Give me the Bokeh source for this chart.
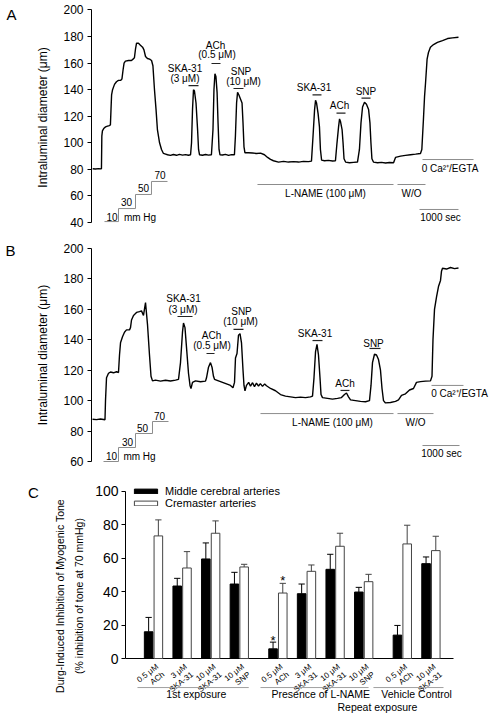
from bokeh.plotting import figure
from bokeh.layouts import column
from bokeh.models import Range1d, FixedTicker, Label, Legend, LegendItem, ColumnDataSource
from bokeh.core.properties import value
from bokeh.embed import file_html
from bokeh.resources import INLINE

FONT = "Liberation Sans"
GRAY = "#8c8c8c"

# ---------------- Panel A : trace (time in s, diameter in um) ----------------
a_time = [30, 100, 180, 255, 265, 280, 320, 360, 410, 460, 485, 500, 515, 540, 590, 640, 690, 745, 780, 810,
          835, 870, 950, 1025, 1065, 1100, 1130, 1155, 1205, 1255, 1310, 1345, 1385, 1435, 1490, 1540, 1575,
          1615, 1655, 1690, 1745, 1795, 1845, 1900, 1950, 2025, 2100, 2180, 2255, 2335, 2410, 2485, 2540,
          2565, 2590, 2615, 2640, 2680, 2720, 2745, 2770, 2845, 2925, 3000, 3075, 3115, 3140, 3165, 3190,
          3220, 3245, 3270, 3295, 3360, 3435, 3515, 3590, 3665, 3690, 3720, 3745, 3780, 3820, 3860, 3885,
          3910, 3935, 4025, 4130, 4230, 4335, 4435, 4515, 4590, 4665, 4795, 4925, 5050, 5180, 5310, 5435,
          5565, 5640, 5680, 5720, 5745, 5770, 5810, 5845, 5870, 5900, 5975, 6075, 6180, 6255, 6295, 6335,
          6360, 6385, 6425, 6450, 6475, 6515, 6615, 6720, 6820, 6870, 6910, 6950, 7000, 7050, 7105, 7140,
          7165, 7190, 7230, 7335, 7435, 7540, 7640, 7745, 7795, 7925, 8050, 8180, 8310, 8435, 8470, 8510,
          8540, 8565, 8605, 8640, 8690, 8770, 8870, 9000, 9130, 9255, 9410]
a_diam = [80.5, 80.3, 80.6, 80.4, 105, 109, 111, 112, 112.5, 113, 113.5, 125, 136, 140, 144, 146, 147, 147, 148, 155,
          160, 161.5, 162, 162, 163, 164, 171, 175, 175, 173.5, 172, 170, 165, 163.5, 163, 162, 158,
          140, 125, 110, 100, 95, 92, 91.5, 91, 90.5, 91.2, 90.6, 91.3, 90.7, 91.1, 90.6, 91,
          100, 125, 140, 139, 130, 110, 95, 91, 90.6, 91.2, 90.7, 91, 110, 140, 152, 150,
          138, 115, 95, 91, 90.8, 91.3, 90.5, 91.1, 91, 105, 130, 138, 136, 133, 130, 115,
          97, 92.5, 92.5, 92.3, 92, 92.2, 91, 89, 87.5, 86.5, 85.5, 86, 85.5, 85.8, 85.5, 86,
          85.8, 86.2, 105, 125, 132, 130, 122, 112, 95, 87, 86.5, 86.8, 86.3, 86.5, 100, 112,
          118, 116, 110, 100, 88, 85.5, 85, 85.3, 85.5, 95, 115, 127, 130.5, 129, 125, 115,
          100, 88, 85.5, 85, 85.3, 84.8, 85.2, 85, 89, 90, 90.5, 91, 91.5, 92, 95, 117,
          135, 145, 163, 168, 172, 174, 175.6, 177, 178.5, 179, 179.5]

# ---------------- Panel B : trace ----------------
b_time = [26, 128, 231, 346, 359, 385, 436, 487, 564, 641, 692, 718, 744, 795, 846, 897, 974, 1000, 1026, 1077,
          1154, 1231, 1282, 1333, 1385, 1436, 1487, 1526, 1564, 1641, 1769, 1897, 2026, 2154, 2231, 2282,
          2333, 2359, 2397, 2436, 2487, 2526, 2551, 2590, 2667, 2795, 2923, 2949, 3000, 3051, 3090, 3128,
          3154, 3256, 3359, 3462, 3564, 3628, 3667, 3692, 3731, 3769, 3808, 3846, 3885, 3910, 3936, 3974,
          4030, 4077, 4130, 4179, 4230, 4282, 4330, 4385, 4440, 4487, 4590, 4718, 4846, 4974, 5103, 5231,
          5359, 5487, 5615, 5667, 5705, 5744, 5782, 5820, 5859, 5885, 5923, 6051, 6179, 6308, 6410, 6487,
          6538, 6590, 6641, 6769, 6897, 7026, 7128, 7167, 7205, 7256, 7308, 7359, 7410, 7449, 7487, 7538,
          7667, 7795, 7872, 7949, 8051, 8154, 8256, 8333, 8436, 8564, 8692, 8731, 8756, 8795, 8846, 8897,
          8949, 8974, 9000, 9103, 9205, 9308, 9410]
b_diam = [87.8, 87.5, 87.9, 87.4, 100, 115, 118, 118.8, 118.3, 119, 118.5, 130, 138, 142, 145, 146.5, 146.5, 148, 153, 156,
          158, 158.5, 159, 156, 164.5, 150, 130, 116, 113, 113.5, 112.8, 113.4, 112.9, 113.5, 114, 125,
          145, 151, 148, 135, 118, 110, 108, 112, 113, 112.4, 112.8, 115, 122, 125, 122, 116,
          114, 113, 112, 111, 110, 108.5, 112, 128, 131, 143, 144, 138, 120, 110, 106.5, 110,
          112, 109.5, 111.8, 109.2, 111.5, 109.6, 111.2, 109.4, 111, 109.8, 108, 106.5, 104, 103, 102.5, 102,
          102.3, 102, 102.5, 103, 115, 132, 137, 130, 115, 104, 102, 101.5, 101, 101.5, 102, 104,
          105, 102.5, 100.5, 100, 99.5, 99.3, 100, 110, 125, 130.5, 130, 127, 120, 108, 100, 98.5,
          98.8, 99.5, 100.5, 103.5, 104.5, 107, 108, 112, 112.5, 112.8, 113, 116, 140, 160, 168, 175,
          179, 185, 187, 186.5, 187.5, 186.8, 187.2]

# ---------------- Panel C : bars (% inhibition, mean and SEM) ----------------
cat_labels = ["0.5 \u03bcM\nACh", "3 \u03bcM\nSKA-31", "10 \u03bcM\nSKA-31", "10 \u03bcM\nSNP",
              "0.5 \u03bcM\nACh", "3 \u03bcM\nSKA-31", "10 \u03bcM\nSKA-31", "10 \u03bcM\nSNP",
              "0.5 \u03bcM\nACh", "10 \u03bcM\nSKA-31"]
cat_group = [0, 0, 0, 0, 1, 1, 1, 1, 2, 2]
group_names = ["1st exposure", "Presence of L-NAME", "Vehicle Control"]
mca_mean = [16, 43.4, 59.6, 44.6, 5.8, 38.8, 53.4, 39.8, 14, 56.8]
mca_sem = [8.6, 4.6, 9.6, 7.0, 4.0, 5.8, 9.0, 2.8, 5.8, 4.0]
cre_mean = [73.4, 54.2, 75.0, 54.8, 39.2, 52.2, 67.2, 46.0, 68.6, 64.6]
cre_sem = [9.6, 9.8, 7.4, 1.6, 5.8, 3.8, 7.8, 4.4, 11.2, 8.6]
mca_sig = [False, False, False, False, True, False, False, False, False, False]
cre_sig = [False, False, False, False, True, False, False, False, False, False]


def style_y(p, bounds, ticks, size, label="", standoff=10):
    ax = p.yaxis[0]
    ax.bounds = bounds
    ax.ticker = FixedTicker(ticks=ticks)
    ax.major_label_text_font = FONT
    ax.major_label_text_font_size = size
    ax.major_label_text_color = "black"
    ax.major_tick_out = 4
    ax.major_tick_in = 0
    ax.minor_tick_out = 0
    ax.minor_tick_in = 0
    ax.major_label_standoff = 4
    ax.axis_line_color = "black"
    ax.major_tick_line_color = "black"
    ax.axis_label = label
    ax.axis_label_text_font = FONT
    ax.axis_label_text_font_size = "12px"
    ax.axis_label_text_font_style = "normal"
    ax.axis_label_text_color = "black"
    ax.axis_label_standoff = standoff


def base_fig(h, xr, yr, left):
    p = figure(width=495, height=h, x_range=xr, y_range=yr, output_backend="svg",
               toolbar_location=None, x_axis_location=None, min_border_left=left,
               min_border_right=0, min_border_top=0, min_border_bottom=0)
    p.outline_line_color = None
    p.grid.visible = False
    p.background_fill_color = "white"
    p.border_fill_color = "white"
    if "frame_align" in p.properties():
        p.frame_align = False
    return p


def texts(p, items, size="10px"):
    src = ColumnDataSource(dict(x=[i[1] for i in items], y=[i[2] for i in items], t=[i[0] for i in items]))
    p.text(x="x", y="y", text="t", source=src, text_font=value(FONT), text_font_size=size,
           text_align="center", text_baseline="middle", text_color="black")


def letter(p, txt, x, y):
    p.add_layout(Label(x=x, y=y, text=txt, text_font=FONT, text_font_size="15px",
                       text_align="center", text_baseline="middle", text_color="black"), "left")


def trace_panel(h, yr, bounds, ticks, t, d, drug_bars, gray_lines, stair_x, stair_y, labels):
    p = base_fig(h, Range1d(0, 10359), yr, 91)
    style_y(p, bounds, ticks, "12px", "Intraluminal diameter (\u03bcm)", 10)
    p.line(t, d, line_color="black", line_width=1.4)
    p.segment(x0=[b[0] for b in drug_bars], x1=[b[1] for b in drug_bars],
              y0=[b[2] for b in drug_bars], y1=[b[2] for b in drug_bars], line_color="#222222", line_width=1.2)
    p.segment(x0=[b[0] for b in gray_lines], x1=[b[1] for b in gray_lines],
              y0=[b[2] for b in gray_lines], y1=[b[2] for b in gray_lines], line_color=GRAY, line_width=1)
    p.line(stair_x, stair_y, line_color=GRAY, line_width=1)
    texts(p, labels)
    return p


pA = trace_panel(
    234, Range1d(30.965, 207.15), (40, 200), [40, 60, 80, 100, 120, 140, 160, 180, 200], a_time, a_diam,
    [(2487, 2744, 143.1), (3077, 3308, 159.7), (3641, 3897, 140.9),
     (5667, 5897, 136.1), (6282, 6513, 122.3), (6923, 7154, 133.6)],
    [(4256, 7744, 68.6), (7846, 8564, 68.6), (8487, 9795, 87.4), (8410, 9410, 49.8)],
    [333, 692, 692, 1128, 1128, 1538, 1538, 1949], [40.7, 40.7, 50.5, 50.5, 61.1, 61.1, 70.9, 70.9],
    [("SKA-31", 2397, 156.0), ("(3 \u03bcM)", 2397, 148.4),
     ("ACh", 3180, 173.3), ("(0.5 \u03bcM)", 3218, 166.5),
     ("SNP", 3833, 153.7), ("(10 \u03bcM)", 3897, 146.2),
     ("SKA-31", 5705, 141.7), ("ACh", 6359, 128.1), ("SNP", 7038, 138.9),
     ("L-NAME (100 \u03bcM)", 6000, 61.8), ("W/O", 8205, 61.8),
     ("0 Ca\u00b2\u207a/EGTA", 9192, 80.6), ("1000 sec", 8949, 43.8),
     ("10", 526, 44.5), ("30", 897, 55.3), ("50", 1333, 65.8), ("70", 1756, 75.4), ("mm Hg", 1244, 44.0)])
letter(pA, "A", -2051, 196.6)

pB = trace_panel(
    241, Range1d(50.80, 209.20), (60, 200), [60, 80, 100, 120, 140, 160, 180, 200], b_time, b_diam,
    [(2205, 2590, 155.3), (2949, 3154, 131.0), (3641, 3897, 146.8),
     (5667, 5923, 139.5), (6385, 6615, 106.7), (7128, 7410, 134.3)],
    [(4333, 7744, 91.5), (7846, 8769, 91.5), (8718, 9538, 110.0), (8487, 9436, 70.5)],
    [308, 692, 692, 1128, 1128, 1564, 1564, 1974], [60, 60, 69.2, 69.2, 78.4, 78.4, 86.3, 86.3],
    [("SKA-31", 2359, 167.1), ("(3 \u03bcM)", 2346, 159.9),
     ("ACh", 3077, 142.8), ("(0.5 \u03bcM)", 3090, 136.2),
     ("SNP", 3846, 158.6), ("(10 \u03bcM)", 3820, 152.0),
     ("SKA-31", 5731, 144.1), ("ACh", 6500, 111.3), ("SNP", 7231, 137.6),
     ("L-NAME (100 \u03bcM)", 6179, 85.6), ("W/O", 8308, 85.6),
     ("0 Ca\u00b2\u207a/EGTA", 9436, 104.7), ("1000 sec", 8974, 65.3),
     ("10", 513, 63.9), ("30", 923, 73.1), ("50", 1308, 81.7), ("70", 1744, 89.6), ("mm Hg", 1231, 63.3)])
letter(pB, "B", -2077, 198.7)

# ---------------- Panel C ----------------
GROUP_GAP = 0.35
pos = [i + GROUP_GAP * g for i, g in enumerate(cat_group)]
OFF, BW, CAP = 0.17, 0.30, 0.11
xb = [x - OFF for x in pos]
xw = [x + OFF for x in pos]

pC = base_fig(241, Range1d(-0.979, 11.958), Range1d(-34.73, 109.58), 125)
style_y(pC, (0, 100), [0, 20, 40, 60, 80, 100],
        "14px", "Durg-Induced Inhibition of Myogenic Tone\n(% inhibition of tone at 70 mmHg)", 7)
pC.yaxis[0].major_label_standoff = 3
pC.yaxis[0].axis_label_text_font_size = "10.5px"
pC.yaxis[0].axis_label_text_line_height = 1.6

# baseline (x axis line)
pC.segment(x0=[-0.979], x1=[pos[-1] + 0.79], y0=[0], y1=[0], line_color="black", line_width=1)

rb = pC.vbar(x=xb, top=mca_mean, width=BW, bottom=0, fill_color="black", line_color="black", line_width=1)
rw = pC.vbar(x=xw, top=cre_mean, width=BW, bottom=0, fill_color="white", line_color="#444444", line_width=1)

for xs, m, s, col in ((xb, mca_mean, mca_sem, "black"), (xw, cre_mean, cre_sem, "#444444")):
    tops = [a + b for a, b in zip(m, s)]
    pC.segment(x0=xs, x1=xs, y0=m, y1=tops, line_color=col, line_width=1)
    pC.segment(x0=[x - CAP for x in xs], x1=[x + CAP for x in xs], y0=tops, y1=tops, line_color=col, line_width=1)

star_x = [x for x, f in zip(xb, mca_sig) if f] + [x for x, f in zip(xw, cre_sig) if f]
star_y = [a + b + 1.2 for a, b, f in zip(mca_mean, mca_sem, mca_sig) if f] + \
         [a + b + 1.5 for a, b, f in zip(cre_mean, cre_sem, cre_sig) if f]
pC.text(x=star_x, y=star_y, text=["*"] * len(star_x), text_font=value(FONT), text_font_size="13px",
        text_align="center", text_baseline="middle", text_color="black")

# rotated category labels
pC.text(x=[x + 0.04 for x in pos], y=[-2.2] * len(pos), text=cat_labels, angle=0.663,
        text_font=value(FONT), text_font_size="8px", text_align="right", text_baseline="top",
        text_line_height=1.1, text_color="black")

# group brackets
pad_l = [0.56, 0.61, 1.01]
pad_r = [0.33, 0.17, 0.44]
g_x0, g_x1, g_cx = [], [], []
for g in range(len(group_names)):
    ps = [p_ for p_, gg in zip(pos, cat_group) if gg == g]
    g_x0.append(ps[0] - pad_l[g])
    g_x1.append(ps[-1] + pad_r[g])
    g_cx.append((ps[0] + ps[-1]) / 2)
pC.segment(x0=g_x0, x1=g_x1, y0=[-17.4] * 3, y1=[-17.4] * 3, line_color="#a0a0a0", line_width=1)
pC.text(x=g_cx, y=[-21.0] * 3, text=group_names, text_font=value(FONT), text_font_size="10.5px",
        text_align="center", text_baseline="middle", text_color="black")
pC.text(x=[7.83], y=[-29.3], text=["Repeat exposure"], text_font=value(FONT), text_font_size="10.5px",
        text_align="center", text_baseline="middle", text_color="black")

legend = Legend(items=[LegendItem(label="Middle cerebral arteries", renderers=[rb]),
                       LegendItem(label="Cremaster arteries", renderers=[rw])],
                location=(6, 207), orientation="vertical", glyph_width=29, glyph_height=6,
                label_height=10, label_standoff=5, spacing=0, padding=0, margin=0,
                label_text_font=FONT, label_text_font_size="11px", label_text_color="black",
                label_text_line_height=0.9,
                border_line_color=None, background_fill_alpha=0)
pC.add_layout(legend, "center")
letter(pC, "C", -4.196, 99.4)

layout = column(pA, pB, pC, spacing=0)
open("out.html", "w").write(file_html(layout, INLINE))
